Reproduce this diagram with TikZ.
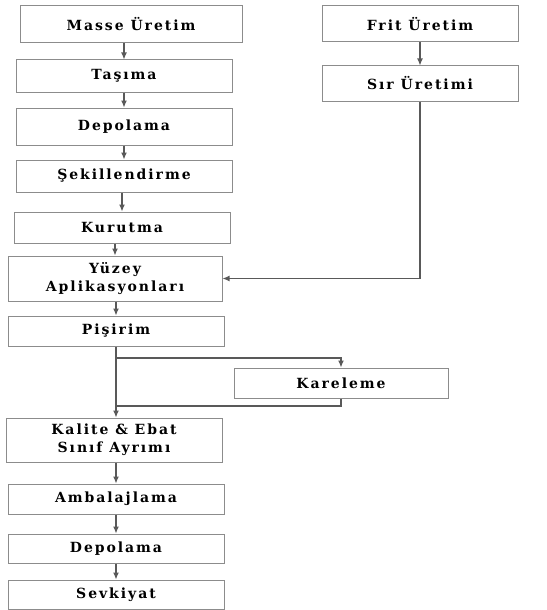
\documentclass[tikz,border=0pt]{standalone}
\usepackage{fontspec}
\setmainfont{DejaVu Serif}[LetterSpace=14]
\usepackage{tikz}
\usetikzlibrary{positioning, arrows.meta}

\begin{document}
\begin{tikzpicture}[x=1pt, y=-1pt,
    stepbox/.style={draw=black!45, line width=1pt, minimum width=216pt, minimum height=31pt,
      inner sep=0pt, align=center, font=\fontsize{14}{18}\selectfont\bfseries},
    flow/.style={draw=black!65, line width=1.2pt, -{Latex[length=7pt, width=6pt]}}]
    \useasboundingbox (0,0) rectangle (546,610);

    % Left column
    \node[stepbox, minimum width=222pt, minimum height=37pt] (masse) at (131,24.5) {Masse Üretim};
    \node[stepbox, minimum height=32pt] (tasima) at (124,76) {Taşıma};
    \node[stepbox, minimum height=37pt] (depo1) at (124,126.5) {Depolama};
    \node[stepbox, minimum height=32pt] (sekil) at (124,176) {Şekillendirme};
    \node[stepbox] (kurutma) at (122,227.5) {Kurutma};
    \node[stepbox, minimum width=214pt, minimum height=45pt] (yuzey) at (115,278.5) {Yüzey\\Aplikasyonları};
    \node[stepbox, minimum height=30pt] (pisirim) at (116,331) {Pişirim};
    \node[stepbox, minimum height=44pt] (kalite) at (114,440) {Kalite \& Ebat\\Sınıf Ayrımı};
    \node[stepbox, minimum height=30pt] (ambalaj) at (116,499) {Ambalajlama};
    \node[stepbox, minimum height=29pt] (depo2) at (116,548.5) {Depolama};
    \node[stepbox, minimum height=29pt] (sevk) at (116,594.5) {Sevkiyat};

    % Side branch
    \node[stepbox, minimum width=214pt, minimum height=30pt] (kare) at (341,383) {Kareleme};

    % Right column
    \node[stepbox, minimum width=196pt, minimum height=36pt] (frit) at (420,24) {Frit Üretim};
    \node[stepbox, minimum width=196pt, minimum height=35pt] (sir) at (420,83.5) {Sır Üretimi};

    % Main flow
    \foreach \a/\b in {masse/tasima, tasima/depo1, depo1/sekil, sekil/kurutma, kurutma/yuzey,
      yuzey/pisirim, kalite/ambalaj, ambalaj/depo2, depo2/sevk} {
      \draw[flow] (\b |- \a.south) -- (\b.north);
    }
    \draw[flow] (pisirim) -- (pisirim |- kalite.north);

    % Glaze line
    \draw[flow] (frit) -- (sir);
    \draw[flow] (sir.south) |- (yuzey.east);

    % Kareleme loop
    \coordinate (split) at (116,358);
    \coordinate (join) at (116,406);
    \draw[flow] (split) -| (kare.north);
    \draw[draw=black!65, line width=1.2pt] (kare.south) |- (join);

  \end{tikzpicture}
\end{document}
